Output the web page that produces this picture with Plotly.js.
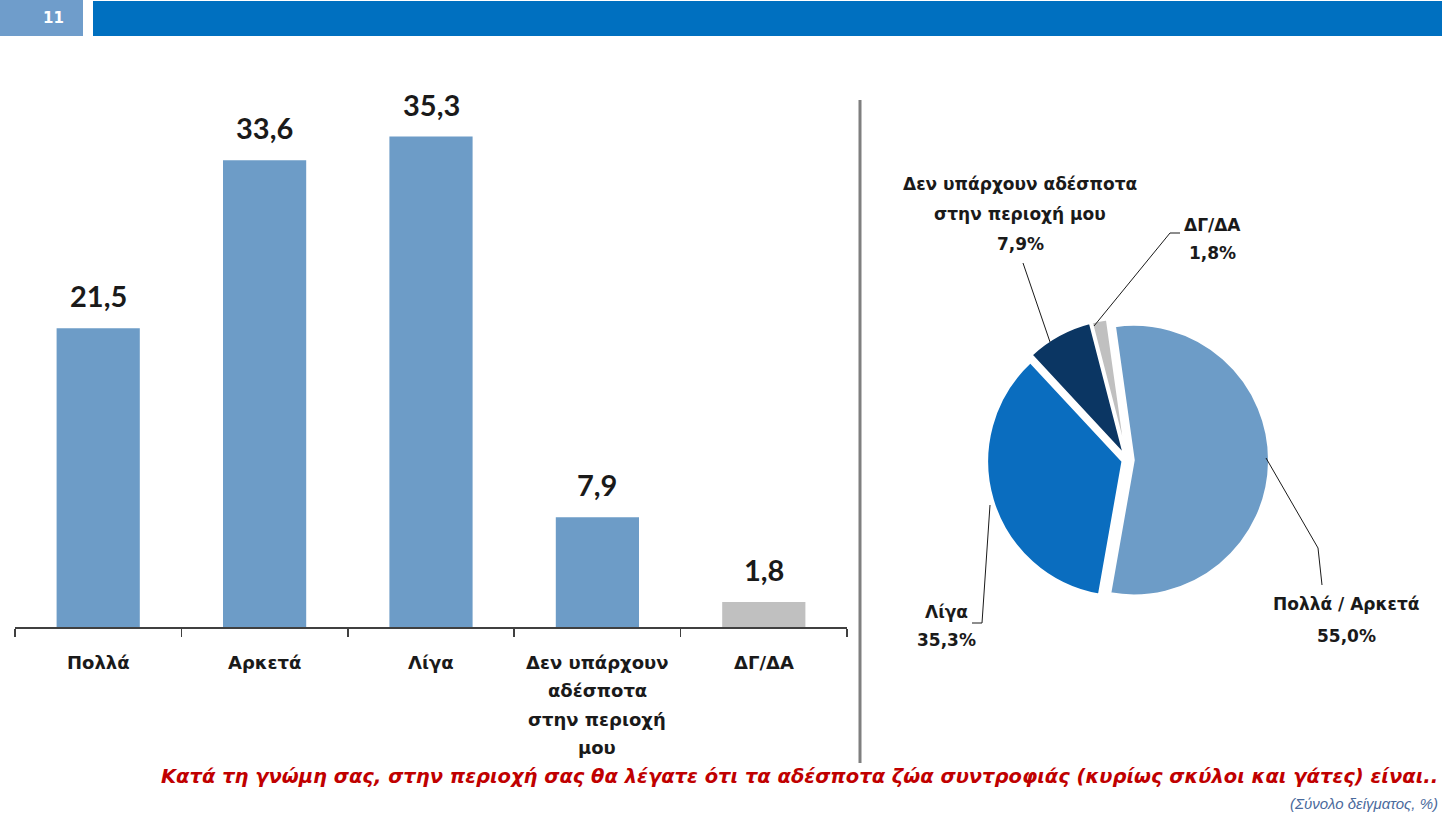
<!DOCTYPE html>
<html>
<head>
<meta charset="utf-8">
<script src="https://cdn.plot.ly/plotly-3.0.1.min.js"></script>
<style>html,body{margin:0;padding:0;background:#fff;}#chart{width:1442px;height:817px;}</style>
</head>
<body>
<div id="chart"></div>
<script>
// ---- data ----
const categories = ['Πολλά', 'Αρκετά', 'Λίγα', 'Δεν υπάρχουν<br>αδέσποτα<br>στην περιοχή<br>μου', 'ΔΓ/ΔΑ'];
const barValues = [21.5, 33.6, 35.3, 7.9, 1.8];
const pieLabels = ['Πολλά / Αρκετά', 'Λίγα', 'Δεν υπάρχουν αδέσποτα<br>στην περιοχή μου', 'ΔΓ/ΔΑ'];
const pieValues = [55.0, 35.3, 7.9, 1.8];
const pageNumber = '11';
const questionText = 'Κατά τη γνώμη σας, στην περιοχή σας θα λέγατε ότι τα αδέσποτα ζώα συντροφιάς (κυρίως σκύλοι και γάτες) είναι..';
const baseText = '(Σύνολο δείγματος, %)';

// ---- helpers ----
const W = 1442, H = 817;
const px = x => x / W;
const py = y => 1 - y / H;
const fmt = v => v.toFixed(1).replace('.', ',');

const barColors = ['#6d9cc7', '#6d9cc7', '#6d9cc7', '#6d9cc7', '#c0c0c0'];
const pieColors = ['#6d9cc7', '#0a6dbf', '#0b3663', '#c0c0c0'];

const barTrace = {
  type: 'bar',
  x: categories,
  y: barValues,
  marker: {color: barColors},
  width: 0.5,
  xaxis: 'x', yaxis: 'y',
  hoverinfo: 'none'
};

const pieTrace = {
  type: 'pie',
  labels: pieLabels,
  values: pieValues,
  sort: false,
  direction: 'clockwise',
  rotation: -8,
  marker: {colors: pieColors, line: {color: '#ffffff', width: 2}},
  pull: [0.05, 0.035, 0.05, 0.05],
  textinfo: 'none',
  hoverinfo: 'none',
  showlegend: false,
  domain: {x: [px(1127 - 142), px(1127 + 142)], y: [py(460 + 142), py(460 - 142)]}
};

const annotations = [];
// value labels on bars
barValues.forEach((v, i) => {
  annotations.push({
    xref: 'x', yref: 'y', x: categories[i], y: v,
    text: fmt(v), showarrow: false, yanchor: 'bottom', yshift: 13,
    font: {family: 'Lato, sans-serif', size: 29, color: '#1a1a1a', weight: 'bold'}
  });
});

// category labels under the axis, one line each for line spacing
const catFont = {family: 'DejaVu Sans, sans-serif', size: 18, color: '#1a1a1a', weight: 'bold'};
categories.forEach((c, i) => {
  c.split('<br>').forEach((t, k) => {
    annotations.push({
      xref: 'x', yref: 'paper', x: c, y: py(662 + k * 28.5),
      text: t, showarrow: false, xanchor: 'center', yanchor: 'middle', font: catFont
    });
  });
});

// pie labels, each line separately for line spacing
const pieFont = {family: 'DejaVu Sans, sans-serif', size: 17, color: '#1a1a1a', weight: 'bold'};
function block(lines, cx, firstY, gap) {
  lines.forEach((t, k) => {
    annotations.push({
      xref: 'paper', yref: 'paper', x: px(cx), y: py(firstY + k * gap),
      text: t, showarrow: false, xanchor: 'center', yanchor: 'middle', font: pieFont
    });
  });
}
const pieText = pieLabels.map((l, i) => l.split('<br>').concat([fmt(pieValues[i]) + '%']));
block(pieText[0], 1346, 604, 32);
block(pieText[1], 946, 612, 28);
block(pieText[2], 1020, 184, 30);
block(pieText[3], 1212, 225, 28);

// page number
annotations.push({
  xref: 'paper', yref: 'paper', x: px(41), y: py(18), yanchor: 'middle', text: pageNumber, showarrow: false,
  font: {family: 'DejaVu Sans, sans-serif', size: 15, color: '#ffffff', weight: 'bold'}
});
// question + base
annotations.push({
  xref: 'paper', yref: 'paper', x: px(1440), y: py(776), xanchor: 'right', yanchor: 'middle',
  text: '<b><i>' + questionText + '</i></b>', showarrow: false,
  font: {family: 'DejaVu Sans, sans-serif', size: 19.5, color: '#c00000'}
});
annotations.push({
  xref: 'paper', yref: 'paper', x: px(1440), y: py(803), xanchor: 'right', yanchor: 'middle',
  text: '<i>' + baseText + '</i>', showarrow: false,
  font: {family: 'Liberation Sans, sans-serif', size: 15, color: '#4a6a9c'}
});

const lineStyle = {color: '#1a1a1a', width: 1};
function path(pts) {
  return 'M ' + pts.map(p => px(p[0]) + ',' + py(p[1])).join(' L ');
}
const shapes = [
  {type: 'rect', xref: 'paper', yref: 'paper', x0: 0, x1: px(83), y0: py(36), y1: 1, fillcolor: '#6f9dcb', line: {width: 0}, layer: 'below'},
  {type: 'rect', xref: 'paper', yref: 'paper', x0: px(93), x1: 1, y0: py(36), y1: py(1), fillcolor: '#0070c0', line: {width: 0}, layer: 'below'},
  {type: 'line', xref: 'paper', yref: 'paper', x0: px(860), x1: px(860), y0: py(100), y1: py(763), line: {color: '#7f7f7f', width: 3}},
  {type: 'path', xref: 'paper', yref: 'paper', path: path([[1050, 342], [1023, 263]]), line: lineStyle},
  {type: 'path', xref: 'paper', yref: 'paper', path: path([[1094, 326], [1170, 233], [1180, 233]]), line: lineStyle},
  {type: 'path', xref: 'paper', yref: 'paper', path: path([[990, 505], [982, 623], [972, 623]]), line: lineStyle},
  {type: 'path', xref: 'paper', yref: 'paper', path: path([[1266, 458], [1318, 548], [1322, 585]]), line: lineStyle}
];

const layout = {
  width: W, height: H,
  margin: {l: 0, r: 0, t: 0, b: 0},
  paper_bgcolor: '#ffffff', plot_bgcolor: 'rgba(0,0,0,0)',
  showlegend: false,
  xaxis: {
    domain: [px(15), px(847)],
    type: 'category',
    showline: true, linecolor: '#404040', linewidth: 1.5,
    ticks: 'outside', tickson: 'boundaries', ticklen: 8, tickcolor: '#404040', tickwidth: 1.5,
    showticklabels: false,
    showgrid: false, zeroline: false, fixedrange: true
  },
  yaxis: {
    domain: [py(627), py(99)],
    range: [0, 38],
    visible: false, showgrid: false, zeroline: false, fixedrange: true
  },
  annotations: annotations,
  shapes: shapes
};

Plotly.newPlot('chart', [barTrace, pieTrace], layout, {displayModeBar: false, staticPlot: true});
</script>
</body>
</html>
